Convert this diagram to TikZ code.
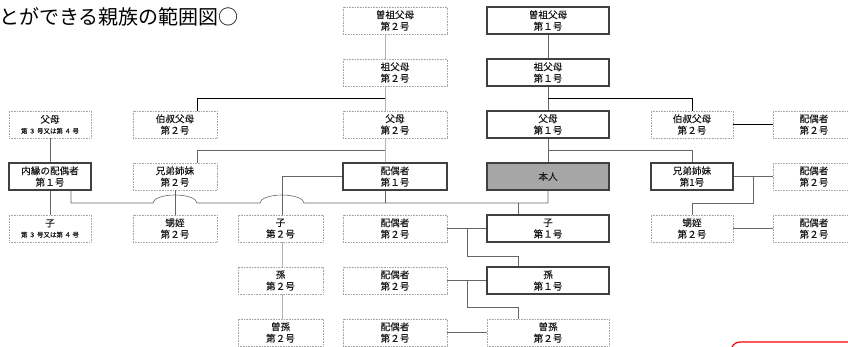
\documentclass[tikz,border=0pt]{standalone}
\usepackage{fontspec}
\newfontfamily\jp[FakeBold=0.25]{Noto Sans CJK JP}
\newfontfamily\jpt{Noto Sans CJK JP}
\begin{document}
\begin{tikzpicture}[x=1pt,y=-1pt,
  bx/.style={minimum height=27pt, inner sep=0pt, align=center, text=black!90,
    font=\jp\fontsize{9.6}{11.5}\selectfont},
  dbox/.style={bx, draw=black!35, densely dotted, line width=0.6pt},
  sbox/.style={bx, draw=black!75, line width=1.1pt},
  mebox/.style={sbox, fill=black!35},
  ln/.style={draw=black!60, line width=0.6pt},
  lnl/.style={draw=black!30, line width=0.9pt},
  lnk/.style={draw=black, line width=0.7pt}]
\useasboundingbox (0,0) rectangle (848,347);
\clip (0,0) rectangle (848,347);

\node[anchor=west, inner sep=0pt, text=black, font=\jpt\fontsize{20}{20}\selectfont] (title) at (-1,16.5) {とができる親族の範囲図○};

% column A
\node[dbox, minimum width=82pt] (a2) at (50,124.5) {父母\\[-1pt]{\fontsize{6.5}{7.5}\selectfont 第 ３ 号又は第 ４ 号}};
\node[sbox, minimum width=82pt] (a3) at (50,176.5) {内縁の配偶者\\第１号};
\node[dbox, minimum width=82pt] (a4) at (50,228.5) {子\\[-1pt]{\fontsize{6.5}{7.5}\selectfont 第 ３ 号又は第 ４ 号}};
% column B
\node[dbox, minimum width=84pt] (b2) at (175,124.5) {伯叔父母\\第２号};
\node[dbox, minimum width=84pt] (b3) at (175,176.5) {兄弟姉妹\\第２号};
\node[dbox, minimum width=84pt] (b4) at (175,228.5) {甥姪\\第２号};
% column C
\node[dbox, minimum width=85pt] (c4) at (280.5,228.5) {子\\第２号};
\node[dbox, minimum width=85pt] (c5) at (280.5,280.5) {孫\\第２号};
\node[dbox, minimum width=85pt] (c6) at (280.5,332.5) {曽孫\\第２号};
% column D
\node[dbox, minimum width=104pt] (d0) at (395,20.5) {曽祖父母\\第２号};
\node[dbox, minimum width=104pt] (d1) at (395,72.5) {祖父母\\第２号};
\node[dbox, minimum width=104pt] (d2) at (395,124.5) {父母\\第２号};
\node[sbox, minimum width=104pt] (d3) at (395,176.5) {配偶者\\第１号};
\node[dbox, minimum width=104pt] (d4) at (395,228.5) {配偶者\\第２号};
\node[dbox, minimum width=104pt] (d5) at (395,280.5) {配偶者\\第２号};
\node[dbox, minimum width=104pt] (d6) at (395,332.5) {配偶者\\第２号};
% column E
\node[sbox, minimum width=122pt] (e0) at (548,20.5) {曽祖父母\\第１号};
\node[sbox, minimum width=122pt] (e1) at (548,72.5) {祖父母\\第１号};
\node[sbox, minimum width=122pt] (e2) at (548,124.5) {父母\\第１号};
\node[mebox, minimum width=122pt] (e3) at (548,176.5) {本人};
\node[sbox, minimum width=122pt] (e4) at (548,228.5) {子\\第１号};
\node[sbox, minimum width=122pt] (e5) at (548,280.5) {孫\\第１号};
\node[dbox, minimum width=122pt] (e6) at (548,332.5) {曽孫\\第２号};
% column F
\node[dbox, minimum width=82pt] (f2) at (692,124.5) {伯叔父母\\第２号};
\node[sbox, minimum width=82pt] (f3) at (692,176.5) {兄弟姉妹\\第1号};
\node[dbox, minimum width=82pt] (f4) at (692,228.5) {甥姪\\第２号};
% column G
\node[dbox, minimum width=82pt] (g2) at (814,124.5) {配偶者\\第２号};
\node[dbox, minimum width=82pt] (g3) at (814,176.5) {配偶者\\第２号};
\node[dbox, minimum width=82pt] (g4) at (814,228.5) {配偶者\\第２号};

% helper coordinates
\coordinate (xA) at (71,0);
\coordinate (xB) at (197,0);
\coordinate (xC) at (282,0);
\coordinate (xD) at (385,0);
\coordinate (xE3) at (467,0);
\coordinate (xE2) at (518,0);
\coordinate (xG) at (753,0);
\coordinate (y98) at (0,98);
\coordinate (y150) at (0,150);
\coordinate (y203) at (0,203);
\coordinate (y256) at (0,256);
\coordinate (y307) at (0,307);
\coordinate (j1) at (153,203);
\coordinate (j2) at (260,203);

% column D verticals
\draw[lnl] (d0.south -| xD) -- (d1.north -| xD);
\draw[lnl] (d1.south -| xD) -- (d2.north -| xD);
\draw[lnl] (d2.south -| xD) -- (d3.north -| xD);
\draw[ln] (d3.south -| xD) -- (xD |- y203);
% column E verticals
\draw[ln] (e0.south) -- (e1.north);
\draw[ln] (e1.south) -- (e2.north);
\draw[ln] (e2.south) -- (e3.north);
% grandparents' children
\draw[lnk] (b2.north -| xB) -- (xB |- y98) -- (xD |- y98);
\draw[lnk] (e1.south |- y98) -- (f2.north |- y98) -- (f2.north);
% parents' children
\draw[ln] (b3.north -| xB) -- (xB |- y150) -- (xD |- y150);
\draw[ln] (e2.south |- y150) -- (f3.north |- y150) -- (f3.north);
% column A
\draw[ln] (a2.south) -- (a3.north);
\draw[ln] (a3.south) -- (a4.north);
% marriage line with jumps
\draw[ln] (a3.south -| xA) -- (xA |- y203) -- (j1)
  arc[start angle=180, end angle=360, x radius=22, y radius=8]
  -- (j2)
  arc[start angle=180, end angle=360, x radius=22, y radius=8]
  -- (e3.south |- y203) -- (e3.south);
\draw[ln] (xE2 |- y203) -- (e4.north -| xE2);
% spouse 1 to child C
\draw[ln] (d3.west) -- (d3.west -| xC) -- (c4.north -| xC);
\draw[ln] (b3.south) -- (b4.north);
\draw[lnl] (c4.south -| xC) -- (c5.north -| xC);
\draw[lnl] (c5.south -| xC) -- (c6.north -| xC);
% descendants with spouses
\draw[ln] (d4.east) -- (e4.west);
\draw[ln] (d4.east -| xE3) -- (xE3 |- y256) -- (xE2 |- y256) -- (e5.north -| xE2);
\draw[ln] (d5.east) -- (e5.west);
\draw[ln] (d5.east -| xE3) -- (xE3 |- y307) -- (xE2 |- y307) -- (e6.north -| xE2);
\draw[ln] (d6.east) -- (e6.west);
% right side
\draw[lnk] (f2.east) -- (g2.west);
\draw[ln] (f3.east) -- (g3.west);
\draw[ln] (f3.east -| xG) -- (xG |- y203) -- (f4.north |- y203) -- (f4.north);
\draw[ln] (f4.east) -- (g4.west);

% red frame corner
\coordinate (r1) at (731,360);
\coordinate (r2) at (731,342);
\coordinate (r3) at (870,342);
\draw[red, line width=1.2pt, rounded corners=9pt] (r1) -- (r2) -- (r3);
\end{tikzpicture}
\end{document}
